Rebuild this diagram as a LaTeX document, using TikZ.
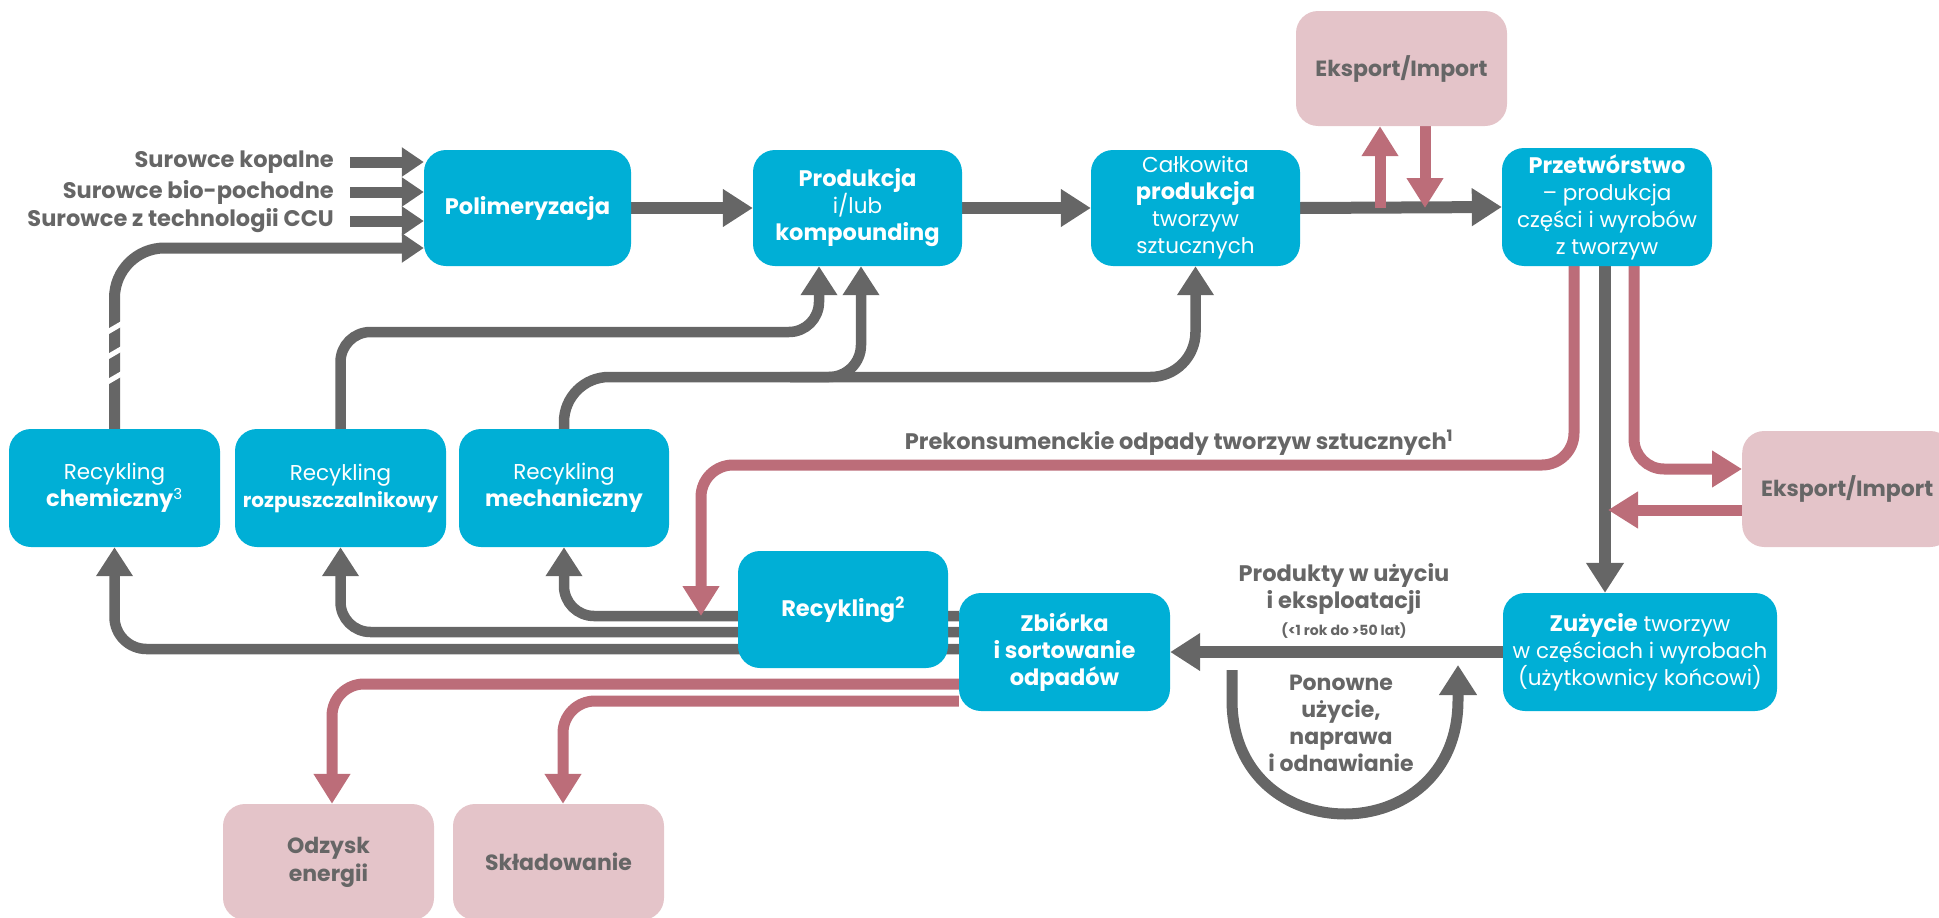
\documentclass[tikz,border=0pt]{standalone}
\usepackage{fontspec}
\setmainfont{Poppins}
\usetikzlibrary{arrows.meta,backgrounds}

\definecolor{stagecyan}{HTML}{00AFD6}
\definecolor{outletpink}{HTML}{E4C4C9}
\definecolor{flowgray}{HTML}{666666}
\definecolor{flowpink}{HTML}{BC6D79}

% heavier, slightly larger face for the key words inside the stages
\newcommand\keyword{\fontsize{22.5}{27}\selectfont\bfseries}

\begin{document}
\begin{tikzpicture}[x=1pt,y=-1pt,
  stage/.style={fill=stagecyan, rounded corners=22pt, text=white, align=center,
    inner sep=0pt, font=\fontsize{21.5}{27}\selectfont},
  outlet/.style={fill=outletpink, rounded corners=22pt, text=flowgray, align=center,
    inner sep=0pt, font=\fontsize{22}{28}\selectfont\bfseries},
  caption/.style={text=flowgray, align=center, inner sep=0pt,
    font=\fontsize{22.5}{27.5}\selectfont\bfseries},
  gflow/.style={draw=flowgray, line width=12pt, -{Triangle[width=36pt,length=30pt]}},
  gthin/.style={draw=flowgray, line width=10.5pt, -{Triangle[width=35pt,length=29pt]}},
  gfeed/.style={draw=flowgray, line width=11pt, -{Triangle[width=28pt,length=22pt]}},
  pflow/.style={draw=flowpink, line width=11pt, -{Triangle[width=35pt,length=30pt]}},
]
\useasboundingbox (0,0) rectangle (1939,918);

% ---------- process stages ----------
\node[stage, minimum width=207pt, minimum height=116pt] (poly) at (527.5,208)
  {\keyword Polimeryzacja};
\node[stage, minimum width=209pt, minimum height=116pt] (prod) at (857.5,208)
  {{\keyword Produkcja}\\i/lub\\{\keyword kompounding}};
\node[stage, minimum width=209pt, minimum height=116pt] (total) at (1195.5,208)
  {Całkowita\\{\keyword produkcja}\\tworzyw\\sztucznych};
\node[stage, minimum width=210pt, minimum height=118pt] (proc) at (1607,207)
  {{\keyword Przetwórstwo}\\– produkcja\\części i wyrobów\\z tworzyw};
\node[stage, minimum width=211pt, minimum height=118pt] (chem) at (114.5,488)
  {Recykling\\{\keyword chemiczny}\textsuperscript{3}};
\node[stage, minimum width=211pt, minimum height=118pt] (solv) at (340.5,488)
  {Recykling\\{\fontsize{20}{27}\selectfont\bfseries rozpuszczalnikowy}};
\node[stage, minimum width=210pt, minimum height=118pt] (mech) at (564,488)
  {Recykling\\{\keyword mechaniczny}};
\node[stage, minimum width=210pt, minimum height=117pt] (rec2) at (843,609.5)
  {\keyword Recykling\textsuperscript{2}};
\node[stage, minimum width=211pt, minimum height=118pt, font=\keyword]
  (coll) at (1064.5,652) {Zbiórka\\i sortowanie\\odpadów};
\node[stage, minimum width=274pt, minimum height=118pt] (use) at (1640,652)
  {{\keyword Zużycie} tworzyw\\w częściach i wyrobach\\(użytkownicy końcowi)};

% ---------- trade and end-of-life outlets ----------
\node[outlet, minimum width=211pt, minimum height=115pt] (exptop) at (1401.5,68.5)
  {Eksport/Import};
\node[outlet, minimum width=210pt, minimum height=116pt, anchor=west] (expright) at (1742,489)
  {Eksport/Import};
\node[outlet, minimum width=211pt, minimum height=116pt] (energy) at (328.5,862)
  {Odzysk\\energii};
\node[outlet, minimum width=211pt, minimum height=116pt] (landfill) at (558.5,862)
  {Składowanie};

% ---------- labels ----------
\node[caption, anchor=east] (feed1) at (334,162) {Surowce kopalne};
\node[caption, anchor=east] (feed2) at (334,192) {Surowce bio-pochodne};
\node[caption, anchor=east] (feed3) at (334,221) {Surowce z technologii CCU};
\node[caption] (prelab) at (1179,443)
  {Prekonsumenckie odpady tworzyw sztucznych\textsuperscript{1}};
\node[caption] (uselab) at (1344,589) {Produkty w użyciu\\i eksploatacji};
\node[caption, font=\fontsize{14}{17}\selectfont\bfseries] (spanlab) at (1344,631)
  {(<1 rok do >50 lat)};
\node[caption, font=\fontsize{22}{27}\selectfont\bfseries] (reuselab) at (1341,723)
  {Ponowne\\użycie,\\naprawa\\i odnawianie};

% ---------- junction points on flows ----------
\coordinate (mechjoin) at (790,377);
\coordinate (splitout) at (1380,208);
\coordinate (splitin) at (1425,208);
\coordinate (backin) at (1608,510);
\coordinate (prewaste) at (701,616);
\coordinate (reusestart) at (1232,670);
\coordinate (reuseend) at (1458,665);

\begin{pgfonlayer}{background}
  % raw material feeds
  \draw[gfeed] ([xshift=16pt]feed1.east) -- (feed1.east -| poly.west);
  \draw[gfeed] ([xshift=16pt]feed2.east) -- (feed2.east -| poly.west);
  \draw[gfeed] ([xshift=16pt]feed3.east) -- (feed3.east -| poly.west);

  % main production chain
  \draw[gflow] (poly.east) -- (prod.west);
  \draw[gflow] (prod.east) -- (total.west);
  \draw[gflow] (total.east) -- (proc.west);
  \draw[gflow] ([xshift=-2pt]proc.south) -- ([xshift=-2pt]proc.south |- use.north);
  \draw[gflow] (use.west) -- (coll.east);

  % reuse, repair and refurbishment loop
  \draw[gflow, line width=11pt] (reusestart) -- (1232,700)
    .. controls (1232,852) and (1458,852) .. (1458,700) -- (reuseend);

  % recycled material returning upstream
  \draw[gfeed, rounded corners=50pt] (chem.north) -- (114.5,248) -- ([yshift=-40pt]poly.west);
  \foreach \yy in {327,352,377}
    \draw[white, line width=5pt] (104,\yy+7) -- (128,\yy-7);
  \draw[gthin, rounded corners=30pt] (solv.north) -- (340.5,332) -- (819,332)
    -- ([xshift=-38.5pt]prod.south);
  \draw[gthin, rounded corners=45pt] (mech.north) -- (564,377) -- (1195.5,377) -- (total.south);
  \draw[gthin, rounded corners=32pt] (mechjoin) -- (861,377) -- ([xshift=3.5pt]prod.south);

  % sorted waste to the recycling routes
  \draw[gthin, rounded corners=30pt] ([yshift=36pt]coll.west) -- (564,616) -- (mech.south);
  \draw[gthin, rounded corners=30pt] ([yshift=20pt]coll.west) -- (340.5,632) -- (solv.south);
  \draw[gthin, rounded corners=32pt] ([yshift=3pt]coll.west) -- (114.5,649) -- (chem.south);

  % trade and waste flows
  \draw[pflow] (splitout) -- ([xshift=-21.5pt]exptop.south);
  \draw[pflow] ([xshift=23.5pt]exptop.south) -- (splitin);
  \draw[pflow, rounded corners=32pt] ([xshift=-33pt]proc.south) -- (1574,465) -- (701,465)
    -- (prewaste);
  \draw[pflow, rounded corners=30pt] ([xshift=27pt]proc.south) -- (1634,469)
    -- ([yshift=20pt]expright.west);
  \draw[pflow] ([yshift=-21pt]expright.west) -- (backin);
  \draw[pflow, rounded corners=32pt] ([yshift=-32pt]coll.west) -- (332,684)
    -- ([xshift=3.5pt]energy.north);
  \draw[pflow, rounded corners=32pt] ([yshift=-49pt]coll.west) -- (563,701)
    -- ([xshift=4.5pt]landfill.north);
\end{pgfonlayer}
\end{tikzpicture}
\end{document}
